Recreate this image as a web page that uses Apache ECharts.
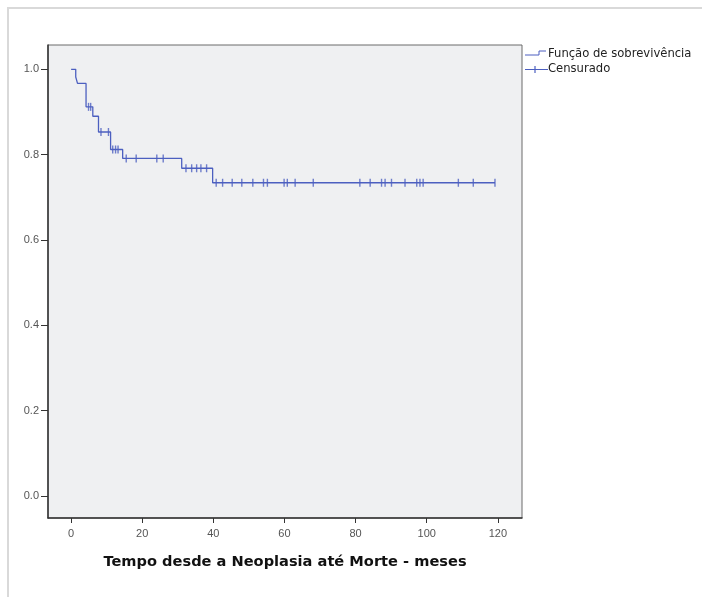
<!DOCTYPE html>
<html>
<head>
<meta charset="utf-8">
<script src="https://cdn.jsdelivr.net/npm/echarts@6/dist/echarts.min.js"></script>
<style>html,body{margin:0;padding:0;background:#fff;}#c{width:702px;height:597px;}</style>
</head>
<body>
<div id="c"></div>
<script>
// Kaplan-Meier step points (time in months, survival)
const stepTimes = [0, 1.3, 1.8, 4.2, 6.1, 7.7, 11.1, 14.5, 31.1, 39.8, 119.2];
const stepSurv  = [1.0, 0.982, 0.967, 0.912, 0.890, 0.853, 0.812, 0.791, 0.768, 0.734, 0.734];
// Censored observation times
const censorTimes = [4.9, 5.5, 8.4, 10.5, 11.7, 12.5, 13.2, 15.5, 18.3, 24.1, 25.9,
  32.3, 33.9, 35.3, 36.5, 38.1,
  40.8, 42.6, 45.3, 48.0, 51.1, 54.1, 55.2, 59.9, 60.8, 63.0, 68.1,
  81.2, 84.1, 87.3, 88.3, 90.1, 93.9, 97.2, 98.1, 99.0, 108.9, 113.1, 119.2];
const xTicks = [0, 20, 40, 60, 80, 100, 120];
const yTicks = [0.0, 0.2, 0.4, 0.6, 0.8, 1.0];
const seriesNames = ['Função de sobrevivência', 'Censurado'];
const xTitle = 'Tempo desde a Neoplasia até Morte - meses';

function survAt(t) {
  let s = stepSurv[0];
  for (let i = 0; i < stepTimes.length; i++) { if (stepTimes[i] <= t) s = stepSurv[i]; }
  return s;
}
const lineColor = '#4c5fc0';
const chart = echarts.init(document.getElementById('c'));
chart.setOption({
  animation: false,
  backgroundColor: '#ffffff',
  grid: { left: 48, top: 45, right: 180, bottom: 79, show: true,
    backgroundColor: '#eff0f2', borderColor: '#6a6a6a', borderWidth: 1 },
  xAxis: {
    type: 'value', min: -6.5, max: 126.8,
    name: xTitle, nameLocation: 'middle', nameGap: 37,
    nameTextStyle: { fontFamily: 'DejaVu Sans', fontWeight: 'bold', fontSize: 14.6, color: '#111' },
    splitLine: { show: false },
    axisLine: { show: true, onZero: false, lineStyle: { color: '#333', width: 1.5 } },
    axisTick: { show: true, length: 5, customValues: xTicks, lineStyle: { color: '#333' } },
    axisLabel: { customValues: xTicks, margin: 10, fontSize: 11, color: '#555', fontFamily: 'Liberation Sans, Arial' }
  },
  yAxis: {
    type: 'value', min: -0.052, max: 1.057,
    splitLine: { show: false },
    axisLine: { show: true, onZero: false, lineStyle: { color: '#333', width: 1.5 } },
    axisTick: { show: true, length: 7, customValues: yTicks, lineStyle: { color: '#333' } },
    axisLabel: { customValues: yTicks, margin: 9, fontSize: 11, color: '#555', fontFamily: 'Liberation Sans, Arial',
      formatter: v => v.toFixed(1) }
  },
  series: [
    { name: seriesNames[0], type: 'line', step: 'end', showSymbol: false, symbol: 'none',
      data: stepTimes.map((t, i) => [t, stepSurv[i]]),
      lineStyle: { color: lineColor, width: 1.3 } },
    { name: seriesNames[1], type: 'scatter', symbol: 'rect', symbolSize: [1.4, 8],
      data: censorTimes.map(t => [t, survAt(t)]),
      itemStyle: { color: lineColor } }
  ],
  graphic: [
    { type: 'polyline', shape: { points: [[8, 597], [8, 8], [702, 8]] }, style: { stroke: '#d9d9d9', lineWidth: 2, fill: null } },
    { type: 'polyline', shape: { points: [[525, 55], [539, 55], [539, 51], [546, 51]] }, style: { stroke: lineColor, lineWidth: 1, fill: null } },
    { type: 'text', left: 548, top: 48, style: { text: seriesNames[0], fontSize: 11.6, fill: '#222', fontFamily: 'DejaVu Sans' } },
    { type: 'line', shape: { x1: 525, y1: 69.5, x2: 548, y2: 69.5 }, style: { stroke: lineColor, lineWidth: 1 } },
    { type: 'line', shape: { x1: 535, y1: 66, x2: 535, y2: 73 }, style: { stroke: lineColor, lineWidth: 1.2 } },
    { type: 'text', left: 548, top: 63, style: { text: seriesNames[1], fontSize: 11.6, fill: '#222', fontFamily: 'DejaVu Sans' } }
  ]
});
</script>
</body>
</html>
